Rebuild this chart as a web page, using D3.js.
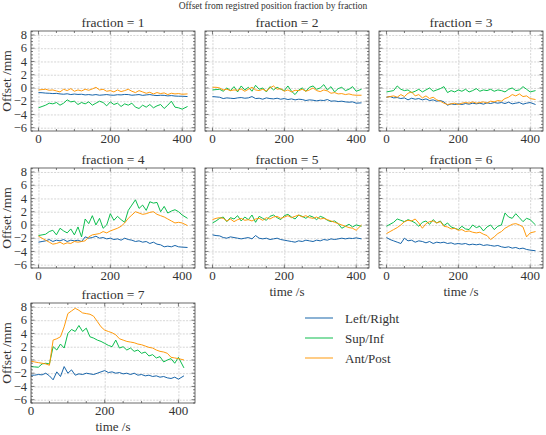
<!DOCTYPE html>
<html><head><meta charset="utf-8">
<script src="https://cdn.jsdelivr.net/npm/d3@7"></script>
<style>
body{margin:0;background:#fff}
svg{display:block}
</style>
</head><body>
<svg id="chart" width="546" height="435"></svg>
<script>
// ---------- data ----------
const chartTitle = "Offset from registred position fraction by fraction";
const times = [0,10,20,30,40,50,60,70,80,90,100,110,120,130,140,150,160,170,180,190,200,210,220,230,240,250,260,270,280,290,300,310,320,330,340,350,360,370,380,390,400,415];
const seriesNames = ["Left/Right","Sup/Inf","Ant/Post"];
const seriesColors = ["#0C5DA5","#00B945","#FF9500"];
const fractions = [1,2,3,4,5,6,7];
const xTickValues = [0,200,400];
const yTickValues = [-6,-4,-2,0,2,4,6,8];

const leftRight1 = [-0.7,-0.72,-0.78,-0.8,-0.85,-0.82,-0.9,-0.95,-0.88,-1.0,-0.92,-0.98,-0.95,-1.05,-1.0,-1.08,-1.0,-1.1,-1.05,-1.0,-1.08,-1.1,-1.02,-1.05,-0.98,-1.0,-1.1,-1.05,-1.0,-1.12,-1.05,-1.0,-1.1,-1.15,-1.1,-1.12,-1.2,-1.15,-1.22,-1.25,-1.25,-1.3];
const supInf1 = [-3.0,-2.8,-2.6,-2.3,-2.4,-2.2,-2.6,-2.3,-1.8,-2.1,-2.0,-2.5,-2.2,-2.4,-2.1,-2.6,-2.3,-2.0,-2.2,-2.7,-2.1,-2.5,-2.3,-2.8,-2.4,-2.6,-2.3,-2.9,-3.1,-2.6,-2.9,-2.5,-3.0,-2.7,-2.5,-3.1,-2.6,-2.0,-2.9,-3.0,-3.2,-2.8];
const antPost1 = [-0.3,-0.25,-0.2,-0.35,-0.3,-0.45,-0.6,-0.2,-0.4,-0.1,-0.5,-0.3,-0.45,-0.2,-0.35,-0.15,0.1,-0.3,-0.2,-0.5,-0.4,-0.6,-0.3,-0.55,-0.4,-0.2,-0.5,-0.7,-0.4,-0.6,-0.8,-0.65,-0.9,-0.7,-0.85,-0.75,-1.0,-0.8,-0.9,-0.85,-0.95,-0.9];

const leftRight2 = [-1.3,-1.35,-1.4,-1.6,-1.5,-1.55,-1.6,-1.5,-1.45,-1.55,-1.5,-1.3,-1.6,-1.55,-1.7,-1.5,-1.6,-1.65,-1.55,-1.7,-1.6,-1.75,-1.65,-1.8,-1.7,-1.75,-1.9,-1.8,-1.85,-1.95,-1.85,-1.9,-1.75,-2.0,-1.95,-2.05,-2.0,-2.1,-2.15,-2.1,-2.3,-2.25];
const supInf2 = [-0.3,-0.25,-0.2,-0.5,0.0,-0.4,0.2,-0.6,0.3,-0.3,0.1,-0.5,0.4,-0.2,0.0,-0.6,0.2,-0.3,0.1,-0.2,-0.4,0.3,-0.5,-1.0,-0.3,0.0,-0.5,0.1,0.3,-0.2,0.0,0.5,-0.3,0.2,-0.6,-0.1,0.1,-0.4,-0.2,0.2,-0.5,-0.2];
const antPost2 = [0.1,0.1,0.0,-0.3,-0.2,-0.4,-0.3,-0.35,-0.15,-0.5,-0.2,0.1,-0.3,-0.4,-0.2,-0.45,0.0,0.3,-0.2,-0.1,-0.5,-0.3,-0.6,-0.35,-0.4,-0.2,-0.5,-0.3,0.0,-0.4,-0.55,-0.3,-0.45,-0.8,-0.7,-0.9,-0.85,-1.0,-0.9,-1.05,-1.1,-1.1];

const leftRight3 = [-1.4,-1.3,-1.5,-1.45,-1.6,-1.5,-1.8,-1.55,-1.7,-1.6,-1.8,-1.65,-1.9,-1.8,-2.0,-1.9,-2.1,-2.6,-2.4,-2.5,-2.4,-2.5,-2.35,-2.45,-2.3,-2.4,-2.3,-2.45,-2.25,-2.35,-2.2,-2.3,-2.2,-2.35,-2.15,-2.4,-2.3,-2.2,-2.45,-2.3,-2.2,-2.5];
const supInf3 = [-0.6,-0.5,-0.4,0.3,-0.2,-0.4,-0.3,-0.7,-0.5,-0.2,-0.6,-0.3,0.0,-0.5,-0.3,-0.1,0.2,-0.7,-0.4,-0.6,-0.3,-0.5,-0.2,-0.6,-0.4,-0.1,-0.5,-0.3,-0.4,-0.2,-0.5,-0.3,-0.4,-0.6,-0.2,0.0,-0.4,-0.3,0.2,-0.2,-0.6,-0.4];
const antPost3 = [-1.4,-1.3,-1.2,-1.4,-1.0,-1.3,-0.8,-0.6,-1.2,-1.0,-1.5,-1.2,-1.6,-1.4,-1.8,-2.0,-2.3,-2.5,-2.4,-2.3,-2.5,-2.3,-2.2,-2.3,-2.1,-2.3,-2.2,-2.1,-2.3,-2.0,-2.1,-1.9,-2.0,-1.6,-1.4,-1.0,-1.2,-0.9,-1.3,-1.2,-1.6,-1.75];

const leftRight4 = [-2.6,-2.5,-2.4,-2.2,-2.5,-2.3,-2.4,-2.2,-2.5,-2.3,-2.4,-2.3,-2.5,-1.8,-2.0,-1.9,-1.7,-2.0,-1.9,-2.1,-2.0,-2.2,-2.1,-2.3,-2.0,-2.2,-2.3,-2.5,-2.4,-2.6,-2.5,-2.8,-2.6,-2.9,-3.0,-3.3,-3.2,-3.3,-3.1,-3.3,-3.35,-3.4];
const supInf4 = [-1.6,-1.5,-1.4,-1.0,-0.8,-1.5,-0.5,-0.9,-1.2,-0.6,-1.5,-0.3,-1.8,0.9,0.2,1.4,0.0,1.0,-0.5,0.0,1.7,0.7,1.3,0.8,0.4,2.2,3.0,3.8,2.5,3.0,2.2,3.5,3.3,3.4,2.0,2.8,1.8,2.1,2.3,2.0,1.5,1.0];
const antPost4 = [-1.7,-2.0,-2.3,-2.6,-2.9,-2.8,-2.6,-2.9,-2.7,-2.8,-2.5,-2.6,-2.5,-2.4,-1.8,-1.5,-1.4,-1.3,-1.0,-1.2,-0.9,-0.7,-0.5,-0.2,0.3,1.0,1.5,2.0,1.8,1.6,1.7,1.9,2.0,1.6,1.4,1.2,0.9,0.6,0.3,0.4,0.3,-0.1];

const leftRight5 = [-1.5,-1.6,-1.65,-1.9,-2.0,-1.8,-1.9,-2.0,-2.1,-2.0,-1.9,-2.1,-1.6,-2.0,-2.1,-2.0,-2.2,-2.1,-2.0,-2.2,-2.3,-2.4,-2.5,-2.6,-2.4,-2.5,-2.3,-2.4,-2.5,-2.3,-2.4,-2.2,-2.3,-2.1,-2.2,-2.1,-2.0,-2.1,-2.0,-2.05,-1.95,-2.1];
const supInf5 = [0.3,0.6,1.0,1.2,0.5,1.1,0.9,1.4,0.6,1.2,0.8,1.5,0.4,1.3,1.0,0.7,1.3,1.5,1.1,0.8,1.4,1.6,1.2,0.9,1.5,1.3,1.0,1.4,1.2,0.8,1.3,1.1,0.7,0.5,0.6,0.2,-0.5,-0.2,0.1,-0.3,0.0,-0.2];
const antPost5 = [0.8,1.0,1.1,1.0,0.6,0.9,0.5,0.8,1.0,0.7,0.8,0.6,0.9,1.0,0.7,1.1,0.9,1.2,1.3,1.0,1.2,1.4,1.1,1.3,1.5,1.2,1.4,1.1,1.0,1.2,0.9,1.0,0.8,0.6,0.4,0.2,0.0,-0.2,-0.4,-0.5,-0.8,0.0];

const leftRight6 = [-1.9,-2.2,-2.4,-2.6,-2.8,-2.0,-2.4,-2.3,-2.6,-2.4,-2.5,-2.7,-2.5,-2.8,-2.6,-2.7,-2.6,-2.8,-2.7,-2.9,-2.8,-2.9,-2.8,-3.0,-2.9,-3.0,-2.9,-3.1,-3.0,-3.1,-3.2,-3.1,-3.3,-3.4,-3.3,-3.5,-3.4,-3.6,-3.5,-3.7,-3.8,-3.9];
const supInf6 = [-0.2,0.1,0.4,0.9,0.7,0.5,0.8,0.6,0.3,-0.2,0.4,0.6,0.1,0.8,0.3,0.6,-0.1,0.3,-0.3,-0.5,-0.7,-0.2,-0.6,-0.7,0.0,-0.4,-0.2,-0.9,-0.3,0.0,-0.7,-0.2,0.0,1.8,1.2,1.0,1.7,1.1,0.5,1.0,0.8,0.0];
const antPost6 = [-1.3,-1.0,-0.7,-0.4,0.0,0.5,0.7,0.6,0.9,0.3,-0.5,0.2,0.5,0.6,0.3,0.5,-0.2,-0.3,-0.6,-0.5,-0.8,-0.7,-1.0,-0.9,-1.1,-1.2,-1.1,-1.4,-1.6,-2.2,-1.8,-1.3,-1.0,-0.5,-0.2,0.1,0.2,0.0,-0.3,-1.8,-1.2,-1.0];

const leftRight7 = [-2.3,-2.3,-2.2,-2.25,-2.0,-2.4,-3.0,-1.8,-2.5,-1.0,-2.0,-1.5,-2.3,-2.1,-2.2,-2.0,-2.1,-2.2,-2.0,-1.8,-1.6,-1.9,-1.8,-2.0,-1.9,-2.1,-2.0,-2.2,-2.0,-2.3,-2.2,-2.4,-2.3,-2.5,-2.4,-2.6,-2.5,-2.7,-2.8,-2.6,-2.9,-2.4];
const supInf7 = [-1.0,-1.05,-1.1,-0.6,-0.5,-0.6,2.0,1.5,2.4,1.8,4.0,4.6,4.3,5.2,4.3,4.8,3.5,3.3,3.0,2.8,2.5,2.2,2.0,3.0,1.8,2.0,1.5,1.8,1.3,1.5,1.0,1.2,0.6,0.8,0.3,0.5,-0.3,0.0,0.2,-0.5,0.4,-1.2];
const antPost7 = [-0.2,-0.3,-0.4,-0.5,-0.6,-0.8,3.0,3.2,3.5,5.0,7.0,7.4,7.8,7.5,7.1,7.0,6.9,6.6,5.8,5.0,4.5,4.3,4.1,3.8,3.2,3.0,2.8,2.7,2.6,2.4,2.3,2.1,1.9,1.8,1.5,1.3,1.2,1.0,0.4,0.3,0.2,0.0];

const panelSeries = [
  [leftRight1, supInf1, antPost1],
  [leftRight2, supInf2, antPost2],
  [leftRight3, supInf3, antPost3],
  [leftRight4, supInf4, antPost4],
  [leftRight5, supInf5, antPost5],
  [leftRight6, supInf6, antPost6],
  [leftRight7, supInf7, antPost7]
];

// ---------- layout ----------
const FONT = "'Liberation Serif', 'Times New Roman', 'DejaVu Serif', serif";
const svg = d3.select("#chart");
const colLeft = [31, 205, 379];
const rowTop = [31, 168, 303];
const pw = 164, ph = 100;
const yDomain = [-6.5, 8.6];
const minus = s => String(s).replace("-", "\u2212");
const txt = (sel, size) => sel.attr("font-family", FONT).attr("font-size", size).attr("fill", "#333");

txt(svg.append("text").attr("x", 273).attr("y", 9).attr("text-anchor", "middle"), 9.5).text(chartTitle);

fractions.forEach((f, i) => {
  const col = i % 3, row = Math.floor(i / 3);
  const left = colLeft[col], top = rowTop[row];
  const xDomain = (i === 6) ? [0, 445] : [-20.75, 435.75];
  const x = d3.scaleLinear().domain(xDomain).range([0, pw]);
  const y = d3.scaleLinear().domain(yDomain).range([ph, 0]);
  const g = svg.append("g").attr("transform", `translate(${left},${top})`);

  // grid
  const gridStyle = sel => sel.selectAll("line").attr("stroke", "#c4c4c4").attr("stroke-width", 0.7).attr("stroke-dasharray", "2,1.3");
  g.append("g").call(d3.axisBottom(x).tickValues(xTickValues).tickSize(-ph).tickFormat(""))
    .attr("transform", `translate(0,${ph})`).call(s => s.select(".domain").remove()).call(gridStyle);
  g.append("g").call(d3.axisLeft(y).tickValues(yTickValues).tickSize(-pw).tickFormat(""))
    .call(s => s.select(".domain").remove()).call(gridStyle);

  // lines
  const clipId = "clip" + i;
  g.append("clipPath").attr("id", clipId).append("rect").attr("width", pw).attr("height", ph);
  const lineGen = d3.line().x((d, k) => x(times[k])).y(d => y(d));
  const lg = g.append("g").attr("clip-path", `url(#${clipId})`);
  panelSeries[i].forEach((vals, s) => {
    lg.append("path").datum(vals).attr("d", lineGen).attr("fill", "none")
      .attr("stroke", seriesColors[s]).attr("stroke-width", 0.95).attr("stroke-linejoin", "round");
  });

  // frame
  g.append("rect").attr("width", pw).attr("height", ph).attr("fill", "none")
    .attr("stroke", "#444").attr("stroke-width", 0.8);

  // ticks inward on all sides
  const xMinor = d3.range(0, 451, 50).filter(v => v >= xDomain[0] && v <= xDomain[1]);
  const yMinor = d3.range(-6.5, 8.6, 0.5).filter(v => v >= yDomain[0] && v <= yDomain[1]);
  const tk = g.append("g").attr("stroke", "#444").attr("stroke-width", 0.7);
  xMinor.forEach(v => {
    const L = xTickValues.includes(v) ? 3.5 : 2;
    tk.append("line").attr("x1", x(v)).attr("x2", x(v)).attr("y1", ph).attr("y2", ph - L);
    tk.append("line").attr("x1", x(v)).attr("x2", x(v)).attr("y1", 0).attr("y2", L);
  });
  yMinor.forEach(v => {
    const L = yTickValues.includes(v) ? 3.5 : 2;
    tk.append("line").attr("y1", y(v)).attr("y2", y(v)).attr("x1", 0).attr("x2", L);
    tk.append("line").attr("y1", y(v)).attr("y2", y(v)).attr("x1", pw).attr("x2", pw - L);
  });

  // x tick labels
  xTickValues.forEach(v => {
    txt(g.append("text").attr("x", x(v)).attr("y", ph + 12).attr("text-anchor", "middle"), 13).text(v);
  });
  // y tick labels
  if (col === 0) {
    yTickValues.forEach(v => {
      txt(g.append("text").attr("x", -4).attr("y", y(v) + 4.2).attr("text-anchor", "end"), 12.5).text(minus(v));
    });
    txt(g.append("text").attr("transform", `translate(${-20},${ph / 2}) rotate(-90)`)
      .attr("text-anchor", "middle"), 13.5).text("Offset /mm");
  }
  // subplot title
  txt(g.append("text").attr("x", pw / 2).attr("y", -4).attr("text-anchor", "middle"), 13.5).text("fraction = " + f);
  // x label
  if (i >= 4) {
    txt(g.append("text").attr("x", pw / 2).attr("y", ph + 28).attr("text-anchor", "middle"), 13).text("time /s");
  }
});

// legend
const legend = svg.append("g").attr("transform", "translate(305,318)");
seriesNames.forEach((name, s) => {
  const ly = s * 20;
  legend.append("line").attr("x1", 0).attr("x2", 28).attr("y1", ly).attr("y2", ly)
    .attr("stroke", seriesColors[s]).attr("stroke-width", 0.95);
  txt(legend.append("text").attr("x", 40).attr("y", ly + 4.5), 13).text(name);
});
</script>
</body></html>
